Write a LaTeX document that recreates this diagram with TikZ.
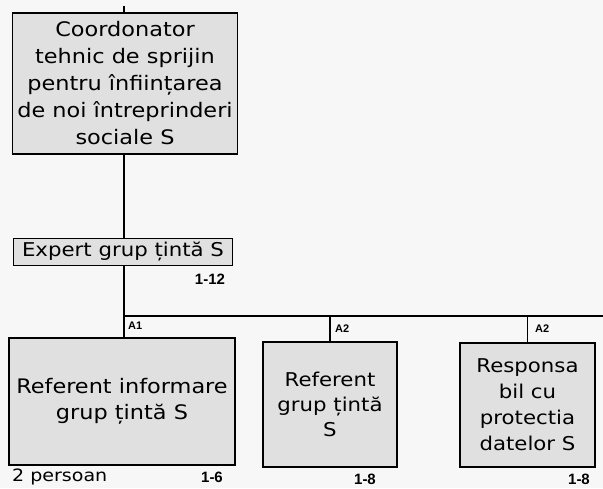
\documentclass[tikz,border=0pt]{standalone}
\usepackage{fontspec}
\setmainfont{DejaVu Sans}
\newfontfamily\boxfont{DejaVu Sans}[FakeStretch=1.12]
\newfontfamily\labfont{Liberation Sans}
\begin{document}
\begin{tikzpicture}[x=1pt,y=-1pt,
  orgbox/.style={draw=black, line width=1.6pt, fill=gray!24, align=center, inner sep=0pt,
    font={\boxfont\fontsize{20}{27}\selectfont}},
  wire/.style={draw=black, line width=1.6pt},
  tag/.style={inner sep=0pt, font={\labfont\bfseries\fontsize{11}{12}\selectfont}},
  num/.style={inner sep=0pt, font={\labfont\bfseries\fontsize{15}{16}\selectfont}}
]
\fill[black!3] (0,0) rectangle (603,488);
\useasboundingbox (0,0) rectangle (603,488);

\node[orgbox, minimum width=225pt, minimum height=141pt] (coord) at (125,83.5)
  {Coordonator\\tehnic de sprijin\\pentru înființarea\\de noi întreprinderi\\sociale S};
\node[orgbox, minimum width=219pt, minimum height=27pt, font={\boxfont\fontsize{19}{22}\selectfont}] (expert) at (123,252)
  {Expert grup țintă S};
\node[orgbox, minimum width=226pt, minimum height=127pt, font={\boxfont\fontsize{20}{26}\selectfont}] (ref1) at (122,401.5)
  {Referent informare\\grup țintă S};
\node[orgbox, minimum width=134pt, minimum height=125pt, font={\boxfont\fontsize{19}{25}\selectfont}] (ref2) at (330,404.5)
  {Referent\\grup țintă\\S};
\node[orgbox, minimum width=135pt, minimum height=124pt, font={\boxfont\fontsize{19}{26}\selectfont}] (ref3) at (527.5,405)
  {Responsa\\bil cu\\protectia\\datelor S};

\coordinate (trunk) at (124,316);
\coordinate (topend) at (trunk |- 0,6);
\coordinate (busend) at (603,316);

\draw[wire] (topend) -- (topend |- coord.north);
\draw[wire] (trunk |- coord.south) -- (trunk |- expert.north);
\draw[wire] (trunk |- expert.south) -- (trunk |- ref1.north);
\draw[wire] (trunk) -- (busend);
\draw[wire] (ref2.north |- trunk) -- (ref2.north);
\draw[wire] (ref3.north |- trunk) -- (ref3.north);

\node[num] (n12) at (210,279) {1-12};
\node[tag, anchor=west] (a1) at (128,326) {A1};
\node[tag, anchor=west] (a2a) at (335,329) {A2};
\node[tag, anchor=west] (a2b) at (535,329) {A2};
\node[inner sep=0pt, anchor=west, font={\boxfont\fontsize{17}{18}\selectfont}] (pers) at (12,477) {2 persoan};
\node[num] (n6) at (212,477) {1-6};
\node[num] (n8a) at (365,479) {1-8};
\node[num] (n8b) at (579,479) {1-8};
\end{tikzpicture}
\end{document}
